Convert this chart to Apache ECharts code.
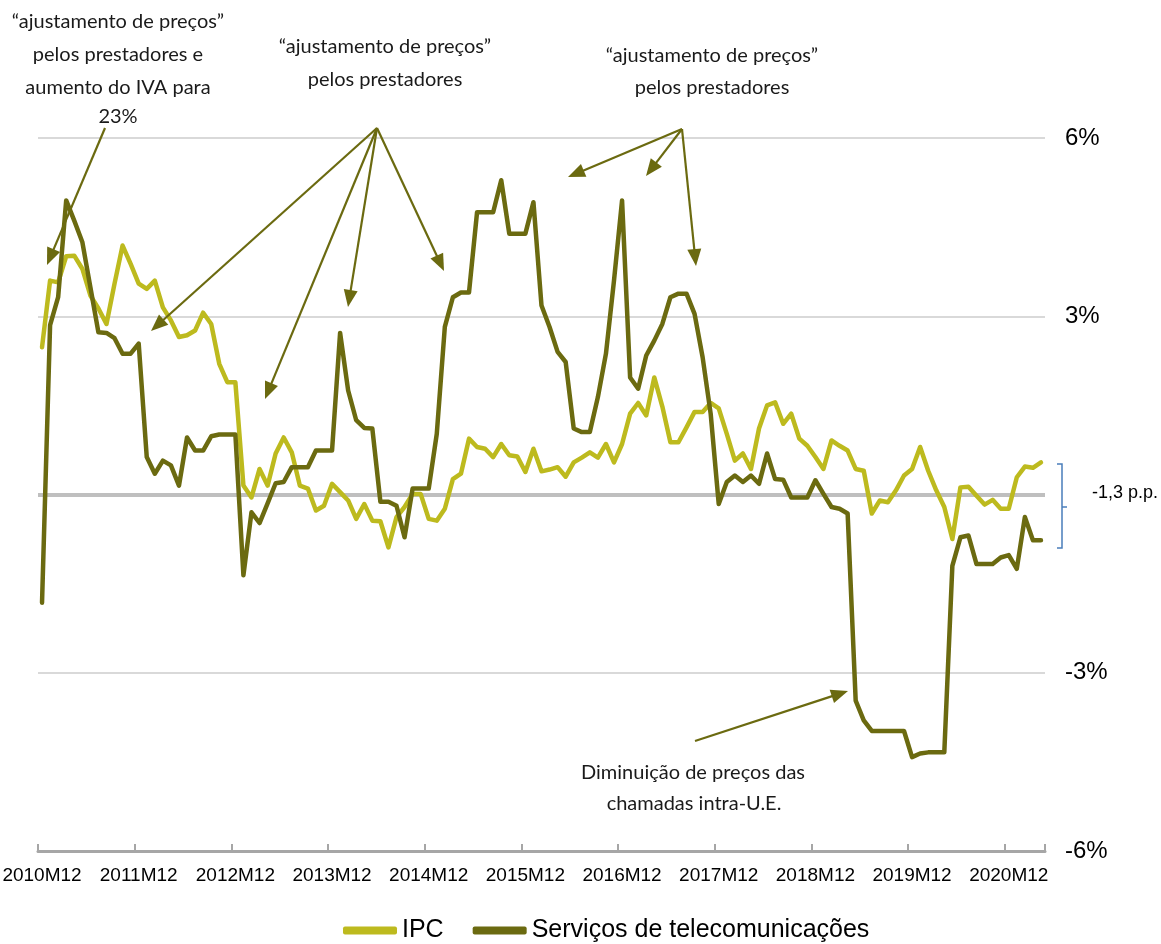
<!DOCTYPE html>
<html>
<head>
<meta charset="utf-8">
<script src="https://cdn.jsdelivr.net/npm/echarts@6/dist/echarts.min.js"></script>
<style>
  html, body { margin: 0; padding: 0; background: #ffffff; }
  #chart { width: 1161px; height: 944px; }
</style>
</head>
<body>
<div id="chart"></div>
<script>
// Monthly periods, 2010M12 .. 2021M04
const periods = [];
for (let k = 0; k < 125; k++) {
  const m = 11 + k;
  const yr = 2010 + Math.floor(m / 12);
  const mo = (m % 12) + 1;
  periods.push(yr + 'M' + (mo < 10 ? '0' + mo : mo));
}

// Year-on-year change, %
const ipc = [
  2.48, 3.60, 3.57, 4.01, 4.02, 3.80, 3.35, 3.13, 2.87, 3.55, 4.19, 3.88,
  3.55, 3.46, 3.60, 3.15, 2.93, 2.65, 2.68, 2.76, 3.06, 2.87, 2.20, 1.89,
  1.89, 0.15, -0.05, 0.43, 0.15, 0.69, 0.96, 0.71, 0.15, 0.10, -0.27, -0.19,
  0.18, 0.04, -0.10, -0.41, -0.16, -0.44, -0.45, -0.89, -0.38, -0.21, 0.01, 0.01,
  -0.41, -0.44, -0.24, 0.26, 0.35, 0.94, 0.80, 0.77, 0.63, 0.85, 0.66, 0.64,
  0.38, 0.77, 0.39, 0.42, 0.46, 0.30, 0.54, 0.62, 0.71, 0.62, 0.85, 0.54,
  0.85, 1.36, 1.54, 1.33, 1.97, 1.48, 0.88, 0.88, 1.13, 1.39, 1.39, 1.54,
  1.45, 1.02, 0.57, 0.69, 0.43, 1.11, 1.50, 1.55, 1.19, 1.36, 0.94, 0.82,
  0.63, 0.43, 0.91, 0.82, 0.74, 0.43, 0.40, -0.32, -0.10, -0.13, 0.07, 0.32,
  0.43, 0.80, 0.40, 0.07, -0.21, -0.75, 0.12, 0.13, -0.02, -0.17, -0.09, -0.24,
  -0.24, 0.29, 0.47, 0.45, 0.54
];

const telecom = [
  -1.82, 2.85, 3.32, 4.95, 4.61, 4.25, 3.49, 2.73, 2.72, 2.63, 2.37, 2.37,
  2.54, 0.63, 0.35, 0.57, 0.49, 0.15, 0.96, 0.74, 0.74, 0.98, 1.01, 1.01,
  1.01, -1.36, -0.30, -0.48, -0.15, 0.19, 0.21, 0.46, 0.46, 0.46, 0.74, 0.74,
  0.74, 2.72, 1.75, 1.25, 1.12, 1.11, -0.12, -0.12, -0.19, -0.72, 0.10, 0.10,
  0.10, 1.02, 2.82, 3.32, 3.40, 3.40, 4.75, 4.75, 4.75, 5.29, 4.39, 4.39,
  4.39, 4.92, 3.18, 2.82, 2.40, 2.23, 1.11, 1.05, 1.05, 1.64, 2.37, 3.60,
  4.95, 1.97, 1.78, 2.34, 2.59, 2.87, 3.32, 3.38, 3.38, 3.04, 2.31, 1.36,
  -0.16, 0.21, 0.32, 0.21, 0.32, 0.18, 0.69, 0.26, 0.25, -0.05, -0.05, -0.05,
  0.24, 0.01, -0.21, -0.24, -0.32, -3.47, -3.80, -3.98, -3.98, -3.98, -3.98, -3.98,
  -4.42, -4.36, -4.34, -4.34, -4.34, -1.20, -0.72, -0.69, -1.17, -1.17, -1.17, -1.06,
  -1.02, -1.25, -0.38, -0.77, -0.77
];

const seriesNames = ['IPC', 'Serviços de telecomunicações'];
const yTicks = [-6, -3, 0, 3, 6];

const COL_IPC = '#BDBA1E';
const COL_TEL = '#6B6A10';
const COL_ANNOT = '#6B6A10';
const SANS = "'Liberation Sans', Arial, sans-serif";
const NOTE_FONT = "Lato, 'Liberation Sans', sans-serif";

// one label and one tick per year, at each December
const everyDecember = i => i % 12 === 0;

const chart = echarts.init(document.getElementById('chart'), null, { renderer: 'canvas' });

chart.setOption({
  animation: false,
  backgroundColor: '#ffffff',
  grid: { left: 38, right: 116, top: 138, bottom: 93, containLabel: false, outerBoundsMode: 'none' },
  legend: {
    data: seriesNames,
    left: 338,
    top: 913,
    icon: 'roundRect',
    itemWidth: 54,
    itemHeight: 8,
    itemGap: 29,
    textStyle: { fontFamily: SANS, fontSize: 25, color: '#000000' }
  },
  xAxis: {
    type: 'category',
    data: periods,
    boundaryGap: true,
    axisLine: { show: true, onZero: false, lineStyle: { color: '#a6a6a6', width: 3 } },
    axisTick: { show: true, inside: true, length: 7, interval: everyDecember, lineStyle: { color: '#a6a6a6', width: 2 } },
    axisLabel: { interval: everyDecember, margin: 15, fontFamily: SANS, fontSize: 19, color: '#000000' },
    splitLine: { show: false }
  },
  yAxis: {
    type: 'value',
    position: 'right',
    min: yTicks[0],
    max: yTicks[yTicks.length - 1],
    interval: 3,
    axisLine: { show: false },
    axisTick: { show: false },
    axisLabel: {
      margin: 20,
      fontFamily: SANS,
      fontSize: 24,
      color: '#000000',
      formatter: v => (v === 0 ? '' : v + '%')
    },
    splitLine: { show: true, lineStyle: { color: '#d9d9d9', width: 2 } }
  },
  series: [
    {
      name: seriesNames[0],
      type: 'line',
      data: ipc,
      showSymbol: false,
      color: COL_IPC,
      lineStyle: { color: COL_IPC, width: 4.5, join: 'round', cap: 'round' },
      z: 3,
      markLine: {
        silent: true,
        z: 1,
        symbol: ['none', 'none'],
        label: { show: false },
        lineStyle: { color: '#bfbfbf', width: 4, type: 'solid' },
        data: [{ yAxis: 0 }]
      }
    },
    {
      name: seriesNames[1],
      type: 'line',
      data: telecom,
      showSymbol: false,
      color: COL_TEL,
      lineStyle: { color: COL_TEL, width: 4.5, join: 'round', cap: 'round' },
      z: 4
    }
  ]
});

// ---- annotations: notes, arrows, gap bracket ----
function arrow(x1, y1, x2, y2) {
  const head = 17, half = 7;
  const dx = x2 - x1, dy = y2 - y1;
  const len = Math.sqrt(dx * dx + dy * dy);
  const ux = dx / len, uy = dy / len;
  const bx = x2 - ux * head, by = y2 - uy * head;
  return [
    { type: 'line', silent: true, z: 20,
      shape: { x1: x1, y1: y1, x2: bx + ux * 2, y2: by + uy * 2 },
      style: { stroke: COL_ANNOT, lineWidth: 2.2 } },
    { type: 'polygon', silent: true, z: 20,
      shape: { points: [[x2, y2], [bx - uy * half, by + ux * half], [bx + uy * half, by - ux * half]] },
      style: { fill: COL_ANNOT } }
  ];
}

function note(cx, cy, txt) {
  return { type: 'text', silent: true, z: 20, x: cx, y: cy,
    style: { text: txt, fill: '#1a1a1a', font: '20px ' + NOTE_FONT, align: 'center', verticalAlign: 'middle' } };
}

const notes = [
  [118, 22, '“ajustamento de preços”'],
  [118, 55, 'pelos prestadores e'],
  [118, 88, 'aumento do IVA para'],
  [118, 117, '23%'],
  [385, 47, '“ajustamento de preços”'],
  [385, 80, 'pelos prestadores'],
  [712, 56, '“ajustamento de preços”'],
  [712, 88, 'pelos prestadores'],
  [693, 773, 'Diminuição de preços das'],
  [694, 804, 'chamadas intra-U.E.']
];

const arrows = [
  [105, 128, 47, 265],
  [377, 128, 151, 331],
  [377, 128, 265, 399],
  [377, 128, 348, 307],
  [377, 128, 444, 271],
  [682, 129, 568, 177],
  [682, 129, 646, 176],
  [682, 129, 696, 266],
  [695, 741, 848, 691]
];

const graphics = [];
notes.forEach(n => graphics.push(note(n[0], n[1], n[2])));
arrows.forEach(a => graphics.push(...arrow(a[0], a[1], a[2], a[3])));

// gap between the two series at the latest period
const last = ipc.length - 1;
const gap = telecom[last] - ipc[last];
const gapText = (gap < 0 ? '-' : '') + Math.abs(gap).toFixed(1).replace('.', ',') + ' p.p.';
const bTop = 464, bBot = 548, bX = 1062;
graphics.push({
  type: 'polyline', silent: true, z: 20,
  shape: { points: [[1057, bTop], [bX, bTop], [bX, bBot], [1057, bBot]] },
  style: { stroke: '#4a7ebb', lineWidth: 1.5, fill: null }
});
graphics.push({
  type: 'line', silent: true, z: 20,
  shape: { x1: bX, y1: (bTop + bBot) / 2 + 1, x2: bX + 5, y2: (bTop + bBot) / 2 + 1 },
  style: { stroke: '#4a7ebb', lineWidth: 1.5 }
});
graphics.push({
  type: 'text', silent: true, z: 20, x: 1092, y: 493,
  style: { text: gapText, fill: '#000000', font: "18px 'Liberation Sans', Arial, sans-serif", align: 'left', verticalAlign: 'middle' }
});

chart.setOption({ graphic: graphics });
</script>
</body>
</html>
